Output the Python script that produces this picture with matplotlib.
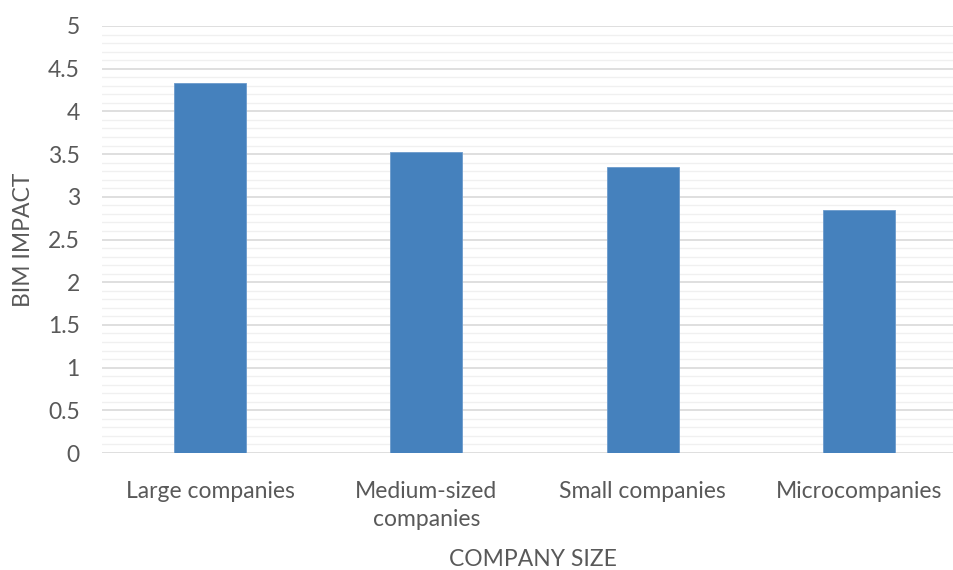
import matplotlib
matplotlib.use("Agg")
import matplotlib.pyplot as plt
from matplotlib.ticker import MultipleLocator

categories = ["Large companies", "Medium-sized\ncompanies", "Small companies", "Microcompanies"]
values = [4.33, 3.52, 3.35, 2.85]
y_ticks = [0, 0.5, 1, 1.5, 2, 2.5, 3, 3.5, 4, 4.5, 5]
y_labels = ["0", "0.5", "1", "1.5", "2", "2.5", "3", "3.5", "4", "4.5", "5"]

plt.rcParams['font.family'] = ['Lato', 'DejaVu Sans']
txt = '#595959'
fs = 16.5

fig = plt.figure(figsize=(9.54, 5.70), dpi=100)
W, H = 954, 570
ax = fig.add_axes([102 / W, (H - 453) / H, (954 - 102) / W, (453 - 26) / H])

x = list(range(len(categories)))
ax.bar(x, values, width=0.333, color='#4581BD', edgecolor='#6C9BCC', linewidth=0.6, zorder=3)

ax.set_xlim(-0.5, 3.44)
ax.set_ylim(0, 5)
ax.set_yticks(y_ticks)
ax.set_yticklabels(y_labels)
ax.yaxis.set_minor_locator(MultipleLocator(0.1))
ax.grid(axis='y', which='major', color='#d9d9d9', linewidth=1.2, zorder=1)
ax.grid(axis='y', which='minor', color='#f0f0f0', linewidth=1.0, zorder=0)
ax.set_axisbelow(True)

ax.set_xticks(x)
ax.set_xticklabels(categories, linespacing=1.45)
ax.tick_params(axis='both', which='both', length=0, colors=txt, labelsize=fs)
ax.tick_params(axis='y', pad=16)
ax.tick_params(axis='x', pad=20)

for s in ax.spines.values():
    s.set_visible(False)

fig.text(24 / W, 1 - 240 / H, "BIM IMPACT", rotation=90, ha='center', va='center', color=txt, fontsize=fs)
fig.text(533 / W, 1 - 560 / H, "COMPANY SIZE", ha='center', va='center', color=txt, fontsize=fs)

fig.savefig("out.png", dpi=100)
